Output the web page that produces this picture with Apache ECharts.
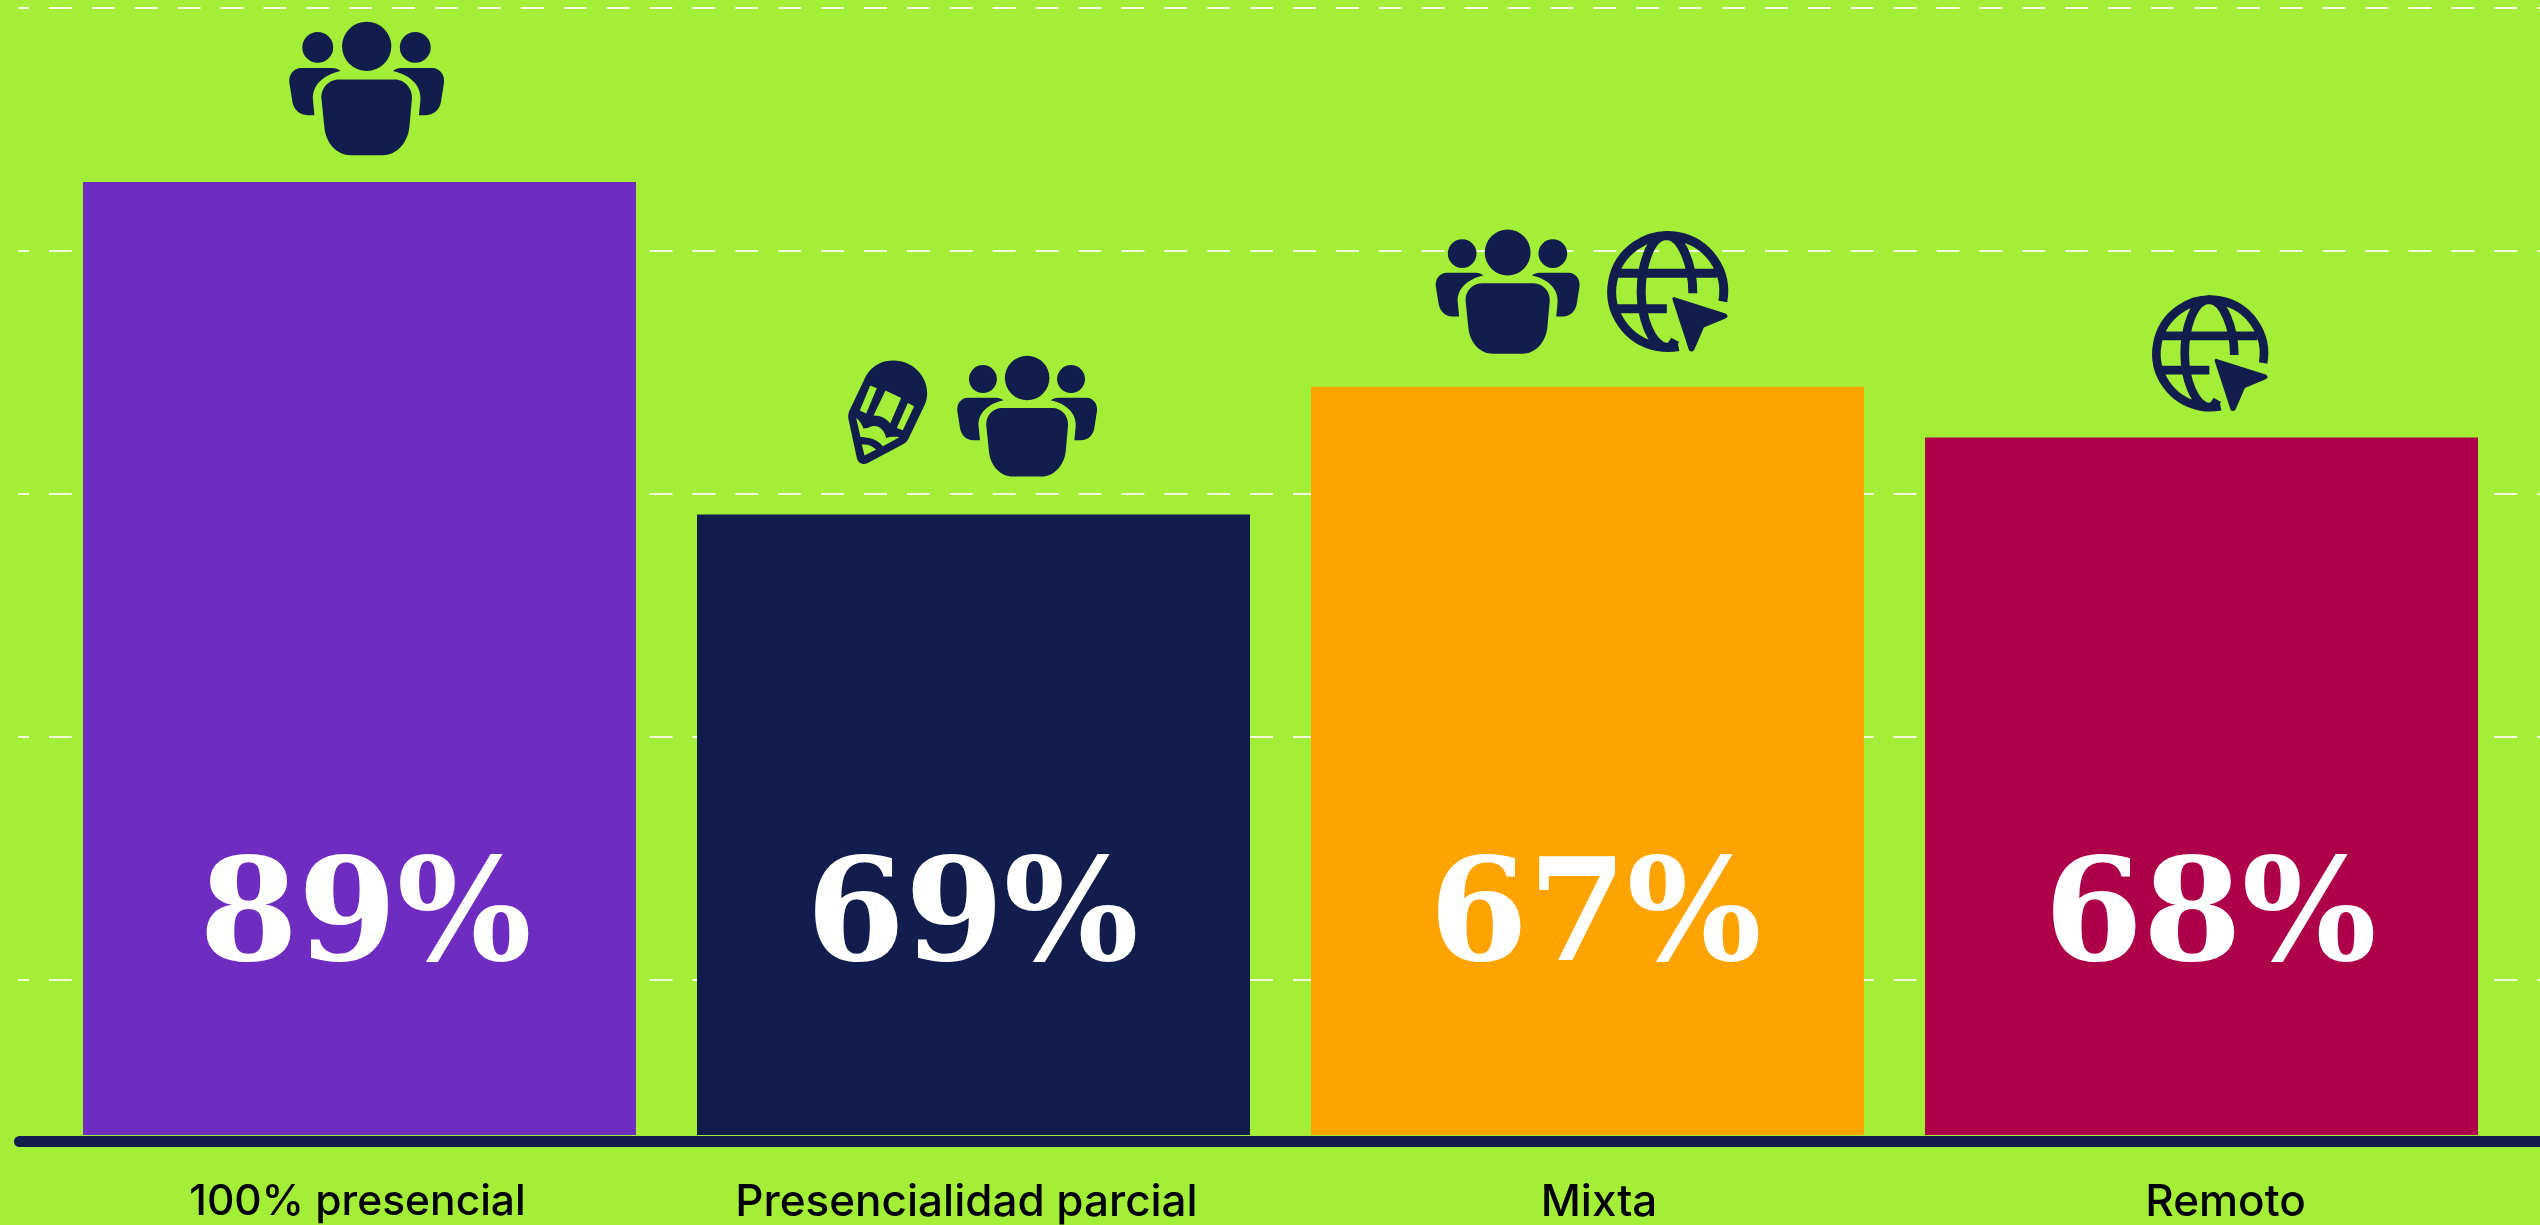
<!DOCTYPE html>
<html>
<head>
<meta charset="utf-8">
<style>html,body{margin:0;padding:0;background:#a3ef37;overflow:hidden}#c{width:2540px;height:1225px}</style>
<script src="https://cdn.jsdelivr.net/npm/echarts@6/dist/echarts.min.js"></script>
</head>
<body>
<div id="c"></div>
<script>
// ---- data ----
const categories = ['100% presencial', 'Presencialidad parcial', 'Mixta', 'Remoto'];
const barValues = [84.57, 55.05, 66.4, 61.88];
const percentLabels = ['89%', '69%', '67%', '68%'];
const barColors = ['#6e2cc0', '#111e4d', '#ffa300', '#ad0048'];
const gridLineCount = 5;
// icons sitting above each bar: [category index, icon name, dx, dy, scale]
const iconsAbove = [
  [0, 'people', 7, -94, 0.368],
  [1, 'pencil', -86, -102, 0.3333],
  [1, 'people', 53.5, -99, 0.3325],
  [2, 'people', -80, -95.5, 0.342],
  [2, 'globe', 79.5, -95, 0.3333],
  [3, 'globe', 8, -84, 0.32]
];
// layout nudges
const valueLabelOffsetX = [6, -1, 8, 9];
const categoryLabelOffsetX = [-2, -7, 11.5, 24];
const categoryLabelSize = [42.5, 44, 44, 44];

// ---- style ----
const NAVY = '#111e4d';
const people =
  'M278,70 A67,67 0 1 1 144,70 A67,67 0 1 1 278,70 Z' +
  'M120,73 A42,42 0 1 1 36,73 A42,42 0 1 1 120,73 Z' +
  'M385,73 A42,42 0 1 1 301,73 A42,42 0 1 1 385,73 Z' +
  'M135,160 H287 C315,160 336,185 334,212 L327,290 C322,335 290,366 255,366 H167 C132,366 100,335 96,290 L88,212 C86,185 107,160 135,160 Z' +
  'M33,129 H118 C126,129 134,132 140,137 C95,147 62,175 65,215 L69,257 H50 C27,257 12,240 9,220 L1,170 C-2,148 12,129 33,129 Z' +
  'M389,129 H304 C296,129 288,132 282,137 C327,147 360,175 357,215 L353,257 H372 C395,257 410,240 413,220 L421,170 C424,148 410,129 389,129 Z';
const globeLines =
  'M350,212 A168,168 0 1 0 217,347 ' +
  'M32,127 H332 M30,234 H182 ' +
  'M182,14 C130,14 105,110 105,182 C105,260 135,345 182,350 C192,350 200,340 207,327 ' +
  'M182,14 C225,14 260,100 260,187';
const cursor = 'M205,199 L358,248 C366,252 366,260 358,263 L293,290 L265,355 C261,364 252,364 248,357 L199,206 C198,201 201,198 205,199 Z';
const pencil =
  'M55,45 C75,12 105,0 137,0 C195,0 238,47 238,97 C238,112 235,122 231,132 L183,232 C180,240 175,245 167,250 L60,307 C45,315 30,307 27,292 L2,177 C0,167 1,159 5,150 Z' +
  'M67,75 L36,150 L55,159 L87,83 Z' +
  'M113,90 L77,165 C100,165 117,175 127,189 L160,112 Z' +
  'M180,127 L147,202 L165,209 L199,137 Z' +
  'M25,172 L38,229 C55,229 90,234 105,257 L155,230 C140,227 125,229 115,232 C110,207 90,185 60,202 L47,204 C43,192 35,179 25,172 Z' +
  'M42,252 L50,285 L85,267 C73,255 58,250 42,252 Z';
const iconParts = {
  people: {w: 421, h: 366, parts: [{d: people, fill: NAVY}]},
  globe: {w: 365, h: 365, parts: [{d: globeLines, stroke: NAVY, lineWidth: 27}, {d: cursor, fill: NAVY}]},
  pencil: {w: 238, h: 312, parts: [{d: pencil, fill: NAVY}]}
};

const chart = echarts.init(document.getElementById('c'), null, {renderer: 'canvas'});
chart.setOption({
  backgroundColor: '#a3ef37',
  animation: false,
  grid: [
    {left: 52.5, width: 2456, top: 8, bottom: 89},
    {left: 18, right: -40, top: 8, bottom: 2},
    {left: 19.5, right: -40, top: 1100, bottom: 84}
  ],
  xAxis: [
    {
      type: 'category', gridIndex: 0, data: categories,
      axisLine: {show: false}, axisTick: {show: false},
      axisLabel: {
        margin: 46, interval: 0,
        formatter: (v, i) => '{c' + i + '|' + v + '}',
        rich: Object.fromEntries(categoryLabelOffsetX.map((o, i) => ['c' + i, {
          fontFamily: 'Inter', fontSize: categoryLabelSize[i], fontWeight: 500, color: '#000',
          padding: o >= 0 ? [0, 0, 0, 2 * o] : [0, -2 * o, 0, 0]
        }]))
      }
    },
    {type: 'value', gridIndex: 1, min: 0, max: 1, show: false},
    {
      type: 'value', gridIndex: 2, min: 0, max: 1,
      axisLine: {show: true, lineStyle: {color: NAVY, width: 11, cap: 'round'}},
      axisTick: {show: false}, axisLabel: {show: false}, splitLine: {show: false}
    }
  ],
  yAxis: [
    {type: 'value', gridIndex: 0, min: 0, max: 100, show: false, splitLine: {show: false}},
    {
      type: 'value', gridIndex: 1, min: 0, max: gridLineCount, interval: 1,
      axisLine: {show: false}, axisTick: {show: false}, axisLabel: {show: false},
      splitLine: {show: true, showMinLine: false, lineStyle: {color: '#f4fbdc', width: 2, type: [23, 19.9], dashOffset: 12}}
    },
    {type: 'value', gridIndex: 2, min: 0, max: 1, show: false, splitLine: {show: false}}
  ],
  series: [
    {
      type: 'bar', xAxisIndex: 0, yAxisIndex: 0, barWidth: 553,
      data: barValues.map((v, i) => ({
        value: v,
        itemStyle: {color: barColors[i]},
        label: {
          show: true, position: 'insideBottom', distance: 141,
          offset: [valueLabelOffsetX[i], 0],
          formatter: percentLabels[i],
          color: '#fff', fontFamily: 'DejaVu Serif', fontWeight: 'bold', fontSize: 142
        }
      }))
    },
    {
      type: 'custom', xAxisIndex: 0, yAxisIndex: 0, clip: false, z: 5,
      data: iconsAbove.map(a => [a[0], barValues[a[0]], a[2], a[3], a[4], a[1]]),
      encode: {x: 0, y: 1},
      renderItem: (params, api) => {
        const p = api.coord([api.value(0), api.value(1)]);
        const s = api.value(4);
        const icon = iconParts[iconsAbove[params.dataIndex][1]];
        return {
          type: 'group',
          x: p[0] + api.value(2) - icon.w * s / 2,
          y: p[1] + api.value(3) - icon.h * s / 2,
          scaleX: s, scaleY: s,
          children: icon.parts.map(part => ({
            type: 'path',
            shape: {pathData: part.d},
            style: {fill: part.fill || 'none', stroke: part.stroke || 'none', lineWidth: part.lineWidth || 0}
          }))
        };
      }
    }
  ]
});
</script>
</body>
</html>
